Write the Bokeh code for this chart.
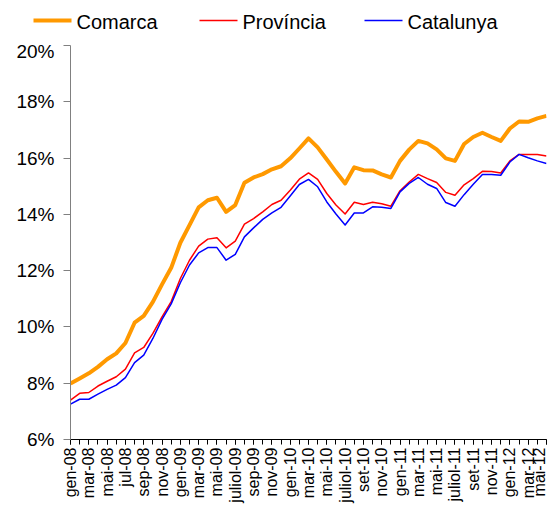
from bokeh.plotting import figure
from bokeh.models import FixedTicker, Range1d
from bokeh.layouts import column, row
from bokeh.core.properties import value
from bokeh.embed import file_html
from bokeh.resources import INLINE
import math

# ---- data (unemployment rate, %) ----
month_index = list(range(53))  # gen-08 .. mai-12
tick_positions = list(range(0, 53, 2))
tick_labels = ["gen-08", "mar-08", "mai-08", "jul-08", "sep-08", "nov-08",
               "gen-09", "mar-09", "mai-09", "juliol-09", "sep-09", "nov-09",
               "gen-10", "mar-10", "mai-10", "juliol-10", "set-10", "nov-10",
               "gen-11", "mar-11", "mai-11", "juliol-11", "set-11", "nov-11",
               "gen-12", "mar-12", "mai-12"]

comarca = [7.99, 8.17, 8.35, 8.58, 8.85, 9.06, 9.43, 10.15, 10.39, 10.89, 11.51, 12.10,
           12.99, 13.62, 14.25, 14.50, 14.59, 14.09, 14.33, 15.12, 15.31, 15.43, 15.60, 15.71,
           15.99, 16.34, 16.70, 16.38, 15.95, 15.51, 15.10, 15.67, 15.57, 15.56, 15.42, 15.31,
           15.90, 16.30, 16.61, 16.52, 16.31, 15.99, 15.90, 16.50, 16.75, 16.90, 16.75, 16.61,
           17.05, 17.30, 17.29, 17.41, 17.50]
provincia = [7.40, 7.64, 7.67, 7.90, 8.07, 8.23, 8.50, 9.08, 9.27, 9.77, 10.36, 10.90,
             11.72, 12.37, 12.87, 13.12, 13.17, 12.81, 13.05, 13.65, 13.85, 14.09, 14.35, 14.50,
             14.86, 15.25, 15.47, 15.24, 14.74, 14.33, 14.01, 14.43, 14.35, 14.43, 14.38, 14.29,
             14.84, 15.15, 15.42, 15.27, 15.13, 14.78, 14.68, 15.05, 15.27, 15.53, 15.52, 15.47,
             15.90, 16.13, 16.13, 16.13, 16.07]
catalunya = [7.26, 7.43, 7.43, 7.61, 7.78, 7.93, 8.20, 8.73, 9.00, 9.59, 10.27, 10.82,
             11.57, 12.20, 12.63, 12.82, 12.82, 12.37, 12.58, 13.20, 13.52, 13.82, 14.05, 14.25,
             14.65, 15.06, 15.24, 14.98, 14.44, 14.01, 13.62, 14.05, 14.05, 14.27, 14.25, 14.21,
             14.80, 15.10, 15.31, 15.07, 14.92, 14.42, 14.29, 14.70, 15.07, 15.42, 15.42, 15.39,
             15.86, 16.13, 16.01, 15.90, 15.81]

series = [comarca, provincia, catalunya]
series_names = ["Comarca", "Província", "Catalunya"]
series_colors = ["#FF9900", "#FF0000", "#0000FF"]
series_widths = [4, 1.5, 1.5]

y_ticks = [6, 8, 10, 12, 14, 16, 18, 20]
y_labels = ["6%", "8%", "10%", "12%", "14%", "16%", "18%", "20%"]

FONT = "Liberation Sans"

# ---- legend strip (layout in pixel units of the strip) ----
LEG_W, LEG_H = 547, 40
leg_sample_x0 = [33, 199, 364]
leg_sample_len = 38
leg_text_gap = 5
leg_y = 20

lf = figure(width=LEG_W, height=LEG_H, output_backend="svg", toolbar_location=None,
            x_axis_type=None, y_axis_type=None,
            min_border_left=0, min_border_right=0, min_border_top=0, min_border_bottom=0,
            x_range=Range1d(0, LEG_W), y_range=Range1d(LEG_H, 0))
lf.outline_line_color = None
lf.xgrid.visible = False
lf.ygrid.visible = False
for x0, col, w in zip(leg_sample_x0, series_colors, series_widths):
    lf.segment(x0=[x0], y0=[leg_y], x1=[x0 + leg_sample_len], y1=[leg_y],
               line_color=col, line_width=w, line_cap="butt")
lf.text(x=[x0 + leg_sample_len + leg_text_gap for x0 in leg_sample_x0],
        y=[leg_y + 1] * 3, text=series_names,
        text_font=value(FONT), text_font_size=value("20px"),
        text_color="black", text_baseline="middle", text_align="left")

# ---- main chart ----
p = figure(width=547, height=465, output_backend="svg", toolbar_location=None,
           x_range=(0, 52), y_range=(6, 20),
           min_border_left=70, min_border_right=1, min_border_top=5, min_border_bottom=66)
p.outline_line_color = None
p.xgrid.visible = False
p.ygrid.visible = False

for vals, col, w in zip(series, series_colors, series_widths):
    p.line(month_index, vals, line_color=col, line_width=w, line_join="round")

# y axis
p.yaxis.ticker = FixedTicker(ticks=y_ticks)
p.yaxis.major_label_overrides = {t: l for t, l in zip(y_ticks, y_labels)}
p.yaxis.axis_line_color = "#808080"
p.yaxis.major_tick_line_color = "#808080"
p.yaxis.major_tick_out = 7
p.yaxis.major_tick_in = 0
p.yaxis.minor_tick_line_color = None
p.yaxis.major_label_text_font = FONT
p.yaxis.major_label_text_font_size = "19px"
p.yaxis.major_label_text_color = "black"
p.yaxis.major_label_standoff = 9

# x axis
p.xaxis.ticker = FixedTicker(ticks=tick_positions, minor_ticks=month_index)
p.xaxis.major_label_overrides = {t: l for t, l in zip(tick_positions, tick_labels)}
p.xaxis.major_label_orientation = math.pi / 2
p.xaxis.axis_line_color = "black"
p.xaxis.major_tick_line_color = "black"
p.xaxis.minor_tick_line_color = "black"
p.xaxis.major_tick_out = 5
p.xaxis.major_tick_in = 0
p.xaxis.minor_tick_out = 5
p.xaxis.minor_tick_in = 0
p.xaxis.major_label_text_font = FONT
p.xaxis.major_label_text_font_size = "16px"
p.xaxis.major_label_text_color = "black"
p.xaxis.major_label_standoff = 3

layout = column(row(lf), row(p), spacing=0)
open("out.html", "w").write(file_html(layout, INLINE))
